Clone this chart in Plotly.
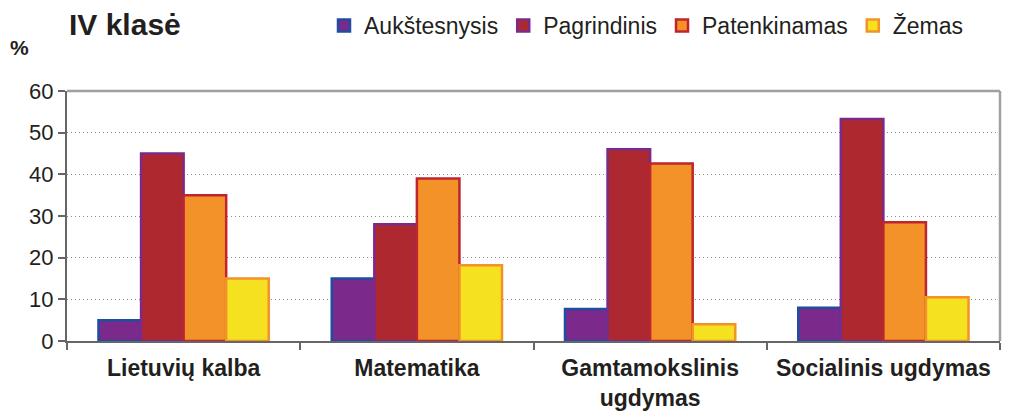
import plotly.graph_objects as go

categories = ["Lietuvių kalba", "Matematika", "Gamtamokslinis<br>ugdymas", "Socialinis ugdymas"]
series_names = ["Aukštesnysis", "Pagrindinis", "Patenkinamas", "Žemas"]
aukstesnysis = [5, 15, 7.7, 8]
pagrindinis = [45, 28, 46, 53.3]
patenkinamas = [35, 39, 42.6, 28.5]
zemas = [15, 18.2, 4, 10.5]
y_ticks = [0, 10, 20, 30, 40, 50, 60]

values = [aukstesnysis, pagrindinis, patenkinamas, zemas]
fills = ["#7B2A8C", "#AE2830", "#F39229", "#F5E120"]
borders = ["#1F4EA0", "#7B2A8C", "#C0252D", "#F39229"]

FONT = "Liberation Sans"

fig = go.Figure()
for name, vals, fc, bc in zip(series_names, values, fills, borders):
    fig.add_trace(go.Bar(
        x=categories, y=vals, name=name,
        marker=dict(color=fc, line=dict(color=bc, width=2.5)),
    ))

pw = 1013 - 67 - 13
ph = 414 - 91 - 73

fig.update_layout(
    width=1013, height=414,
    margin=dict(l=67, r=13, t=91, b=73, autoexpand=False),
    paper_bgcolor="white", plot_bgcolor="white",
    barmode="group", bargap=0.27, bargroupgap=0,
    font=dict(family=FONT, color="#231F20", size=22),
    showlegend=True,
    legend=dict(orientation="h", x=324 / 1013, y=1 - 4 / 414, xref="container", yref="container",
                xanchor="left", yanchor="top",
                font=dict(size=23, family=FONT), tracegroupgap=0, traceorder="normal"),
    annotations=[
        dict(text="<b>IV klasė</b>", x=0, y=1 + (91 - 24) / ph, xref="paper", yref="paper",
             xanchor="left", yanchor="middle", showarrow=False, font=dict(size=30, family=FONT)),
        dict(text="<b>%</b>", x=(8 - 67) / pw, y=1 + (91 - 47) / ph, xref="paper", yref="paper",
             xanchor="left", yanchor="middle", showarrow=False, font=dict(size=21, family=FONT)),
    ],
)

fig.update_xaxes(
    automargin=False, tickangle=0,
    showline=True, linecolor="#666666", linewidth=2,
    ticks="outside", tickson="boundaries", ticklen=7, tickcolor="#666666", tickwidth=1.5,
    tickfont=dict(size=23, family=FONT),
    ticklabelstandoff=5,
    showgrid=False,
    tickvals=categories, ticktext=["<b>" + c + "</b>" for c in categories],
)
fig.update_yaxes(
    automargin=False,
    range=[0, 60], tickvals=y_ticks,
    showline=True, linecolor="#666666", linewidth=2,
    ticks="outside", ticklen=7, tickcolor="#666666", tickwidth=1.5,
    tickfont=dict(size=22, family=FONT),
    showgrid=True, gridcolor="#8A8A8A", griddash="1px,3px", gridwidth=1.2,
    zeroline=False,
)

# top and right plot border
fig.add_shape(type="line", xref="paper", yref="paper", x0=0, x1=1, y0=1, y1=1,
              line=dict(color="#A0A0A0", width=2.5))
fig.add_shape(type="line", xref="paper", yref="paper", x0=1, x1=1, y0=0, y1=1,
              line=dict(color="#A0A0A0", width=2.5))

fig.write_html("out.html", config={"displayModeBar": False},
               post_script="document.body.style.margin='0';document.body.style.padding='0';")
